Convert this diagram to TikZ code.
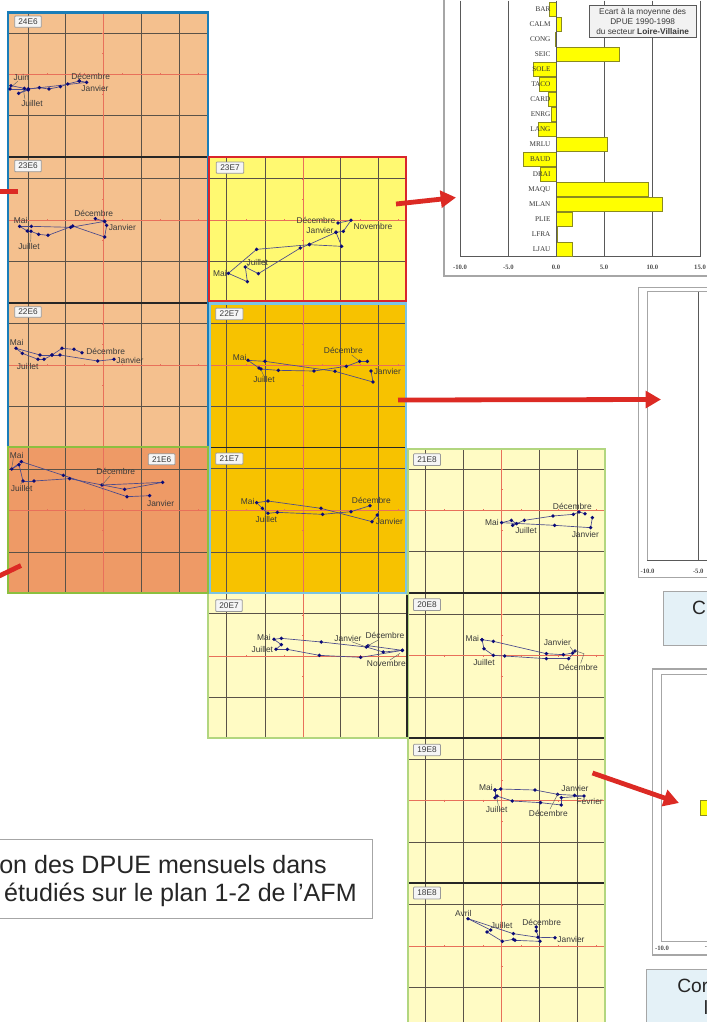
\documentclass[tikz,border=0pt]{standalone}
\usepackage{fontspec}
\setmainfont{Liberation Sans}
\newfontfamily\serifch{Liberation Serif}
\usetikzlibrary{arrows.meta}
\definecolor{fillA}{HTML}{F4C08E}
\definecolor{fillB}{HTML}{EE9A66}
\definecolor{fillC}{HTML}{FFF971}
\definecolor{fillD}{HTML}{F7C200}
\definecolor{fillE}{HTML}{FFFBC4}
\definecolor{blueB}{HTML}{1A7DB8}
\definecolor{greenB}{HTML}{8CBF3F}
\definecolor{lgreenB}{HTML}{B2D67F}
\definecolor{redB}{HTML}{D9262C}
\definecolor{lblueB}{HTML}{7CC4E4}
\definecolor{redL}{HTML}{E8705A}
\definecolor{gridL}{HTML}{5A5248}
\definecolor{arrowR}{HTML}{DC2A24}
\definecolor{trajL}{HTML}{4A4A8C}
\definecolor{trajP}{HTML}{0A0A78}
\definecolor{txtC}{HTML}{3A3A3A}
\definecolor{barY}{HTML}{FFFF00}
\definecolor{barE}{HTML}{8A8A20}
\definecolor{panelB}{HTML}{E4F1F7}
\newcounter{nid}
\tikzset{
  zoomed/.style 2 args={shift={(#1,#2)},x=.25pt,y=-.25pt},
  gridline/.style={gridL,line width=.65pt},
  redline/.style={redL,line width=.65pt},
  bound/.style={black!85,line width=.8pt},
  traj/.style={trajL,line width=.5pt,line cap=round},
  pt/.style={circle,fill=trajP,inner sep=0pt,minimum size=2.8pt},
  lead/.style={gray!80!black,line width=.35pt},
  lab/.style={font=\fontsize{6.3}{7}\selectfont,text=txtC,inner sep=0pt},
  tag/.style={draw=gray!80,fill=gray!8,rounded corners=.6pt,line width=.6pt,font=\fontsize{6.2}{7}\selectfont,text=txtC,inner sep=0pt,align=center},
  bar/.style={draw=barE,fill=barY,line width=.6pt},
  axisl/.style={gray!70!black,line width=.7pt},
  frameL/.style={gray!70,line width=.8pt},
  tick/.style={font=\serifch\fontsize{5}{6}\selectfont\bfseries,text=gray!60!black,inner sep=0pt},
  cat/.style={font=\serifch\fontsize{5.4}{6}\selectfont,text=black!80,inner sep=0pt,anchor=east},
  bigarrow/.style={arrowR,line width=3.6pt,-{Triangle[length=11.5pt,width=12.5pt]}},
  stub/.style={arrowR,line width=3.6pt},
  caption/.style={font=\fontsize{18.8}{20}\selectfont,text=black!85,inner sep=0pt},
  bluetext/.style={font=\fontsize{14.4}{16}\selectfont,text=black!85,inner sep=0pt},
}
\newcommand\lbl[3]{\stepcounter{nid}\node[lab] (n\arabic{nid}) at (#1,#2) {#3};}
\newcommand\trj[1]{\foreach \p [remember=\p as \q, count=\i] in {#1}{\ifnum\i>1 \draw[traj] \q -- \p;\fi}\foreach \p in {#1}{\node[pt] at \p {};}}
\newcommand\ld[1]{\draw[lead] #1;}
\newcommand\tg[5]{\stepcounter{nid}\node[tag,minimum width=#3*.25pt,minimum height=#4*.25pt] (n\arabic{nid}) at (#1,#2) {#5};}
\begin{document}
\begin{tikzpicture}[x=.75pt,y=-.75pt]
\useasboundingbox (0,0) rectangle (707,1022);
\clip (0,0) rectangle (707,1022);
% panel fills
\fill[fillA] (8,12) rectangle (208,447);
\fill[fillB] (8,447) rectangle (208,593);
\fill[fillC] (208,157) rectangle (407,303);
\fill[fillD] (208,303) rectangle (407,593);
\fill[fillE] (208,593) rectangle (407,738);
\fill[fillE] (407,449) rectangle (605,1030);
% grids
\foreach \x in {28,65.5,141,179} \draw[gridline] (\x,12) -- (\x,593);
\foreach \y in {33,115,178,261,323,406,469,552} \draw[gridline] (8,\y) -- (208,\y);
\foreach \x in {226.7,265,340.5,378} \draw[gridline] (\x,157) -- (\x,738);
\foreach \y in {178,261,323,406,468,552,613,697} \draw[gridline] (208,\y) -- (407,\y);
\foreach \x in {425,463,539.5,577} \draw[gridline] (\x,449) -- (\x,1030);
\foreach \y in {469,551,614,697,759,842,904,987} \draw[gridline] (407,\y) -- (605,\y);
% red axes
\draw[redline] (103,12) -- (103,593);
\draw[redline] (303,157) -- (303,738);
\draw[redline] (501.5,449) -- (501.5,1030);
\foreach \y in {74,220,365,510} {\draw[redline] (8,\y) -- (208,\y);
  \foreach \x in {47,84,122,160,198} \draw[redline] (\x,\y-1) -- (\x,\y+1);
  \foreach \d in {-20.5,20.5,-41} \draw[redline] (102,\y+\d) -- (104,\y+\d);}
\foreach \y in {220,365,510,656} {\draw[redline] (208,\y) -- (407,\y);
  \foreach \x in {246,284,322,360,398} \draw[redline] (\x,\y-1) -- (\x,\y+1);
  \foreach \d in {-20.5,20.5,-41} \draw[redline] (302,\y+\d) -- (304,\y+\d);}
\foreach \y in {510,655.6,800.6,946} {\draw[redline] (407,\y) -- (605,\y);
  \foreach \x in {444,483,521,558,596} \draw[redline] (\x,\y-1) -- (\x,\y+1);
  \foreach \d in {-20.5,20.5,-41} \draw[redline] (500.5,\y+\d) -- (502.5,\y+\d);}
% black cell bounds
\draw[bound] (8,157) -- (208,157);
\draw[bound] (8,303) -- (208,303);
\draw[bound] (208,447.5) -- (407,447.5);
\draw[bound] (407,593) -- (605,593);
\draw[bound] (407,738) -- (605,738);
\draw[bound] (407,883) -- (605,883);
% coloured borders
\draw[lgreenB,line width=2pt] (208,593) rectangle (407,738);
\draw[lgreenB,line width=2pt] (408,449) rectangle (605,1040);
\draw[bound] (407,595) -- (407,737);
\draw[blueB,line width=2.1pt] (8,12.5) rectangle (208,447);
\draw[greenB,line width=2.1pt] (8,447) rectangle (208,593);
\draw[lblueB,line width=2.1pt] (210,303.5) rectangle (406,593);
\draw[redB,line width=2.1pt] (209,157) rectangle (406,301);
%
\begin{scope}[zoomed={0}{0}]
\tg{84}{65}{80}{34}{24E6}
\trj{(238,243),(203,252),(181,260),(147,267),(118,263),(85,267),(56,280),(85,270),(73,265),(33,257),(30,267),(85,267),(260,247),(238,243)}
\ld{(53,244) -- (35,260)} \ld{(75,298) -- (70,268)}
\lbl{64}{232}{Juin}\lbl{272}{228}{Décembre}\lbl{285}{264}{Janvier}\lbl{96}{309}{Juillet}
\tg{84}{498}{80}{34}{23E6}
\trj{(286,656),(314,664),(320,676),(314,711),(218,678),(144,706),(116,703),(93,694),(82,693),(59,679),(94,679),(212,682),(314,664)}
\ld{(92,725) -- (93,700)}
\lbl{281}{639}{Décembre}\lbl{62}{660}{Mai}\lbl{367}{681}{Janvier}\lbl{87}{739}{Juillet}
\end{scope}
\begin{scope}[zoomed={0}{300}]
\tg{84}{36}{80}{32}{22E6}
\trj{(246,158),(222,148),(186,145),(156,165),(132,178),(114,178),(67,160),(48,145),(120,165),(156,165),(180,165),(293,183),(342,178)}
\lbl{50}{126}{Mai}\lbl{317}{153}{Décembre}\lbl{390}{182}{Janvier}\lbl{83}{198}{Juillet}
\tg{485}{478}{80}{33}{21E6}
\trj{(449,587),(381,590),(190,526),(64,485),(35,507),(57,494),(69,543),(102,543),(209,536),(374,568),(488,547),(306,555)}
\ld{(40,475) -- (35,505)} \ld{(330,528) -- (306,555)} \ld{(62,552) -- (68,545)}
\lbl{50}{465}{Mai}\lbl{347}{515}{Décembre}\lbl{65}{565}{Juillet}\lbl{482}{609}{Janvier}
\end{scope}
\begin{scope}[zoomed={205}{150}]
\tg{75}{53}{82}{34}{23E7}
\trj{(399,219),(438,211),(415,244),(393,247),(410,289),(313,284),(155,298),(70,370),(127,395),(121,351),(160,371),(286,294),(313,283),(393,247)}
\ld{(133,345) -- (122,351)}
\lbl{333}{212}{Décembre}\lbl{504}{228}{Novembre}\lbl{345}{241}{Janvier}\lbl{157}{337}{Juillet}\lbl{45}{369}{Mai}
\tg{73}{492}{82}{35}{22E7}
\trj{(498,663),(504,696),(390,664),(180,634),(129,631),(162,654),(168,657),(220,661),(327,663),(424,649),(464,634),(487,634)}
\ld{(440,615) -- (462,632)} \ld{(176,677) -- (168,659)}
\lbl{104}{621}{Mai}\lbl{415}{600}{Décembre}\lbl{547}{665}{Janvier}\lbl{177}{689}{Juillet}
\end{scope}
\begin{scope}[zoomed={205}{445}]
\tg{73}{41}{82}{34}{21E7}
\trj{(517,210),(501,230),(348,190),(189,168),(155,173),(172,190),(189,205),(217,202),(353,208),(438,200),(495,182)}
\lbl{128}{170}{Mai}\lbl{499}{166}{Décembre}\lbl{184}{224}{Juillet}\lbl{553}{230}{Janvier}
\tg{72}{482}{80}{35}{20E7}
\trj{(489,602),(592,616),(467,637),(343,631),(247,613),(213,613),(229,599),(207,583),(229,580),(349,591),(484,606),(535,621),(592,616)}
\ld{(440,590) -- (484,606)} \ld{(520,585) -- (489,602)} \ld{(585,625) -- (555,645)}
\lbl{177}{577}{Mai}\lbl{172}{613}{Juillet}\lbl{429}{579}{Janvier}\lbl{540}{570}{Décembre}\lbl{544}{656}{Novembre}
\end{scope}
\begin{scope}[zoomed={405}{445}]
\tg{66}{44}{81}{35}{21E8}
\trj{(540,206),(522,201),(505,208),(444,213),(358,226),(323,241),(335,236),(319,226),(290,233),(449,241),(557,248),(562,218)}
\lbl{502}{184}{Décembre}\lbl{261}{231}{Mai}\lbl{363}{255}{Juillet}\lbl{541}{268}{Janvier}
\tg{66}{479}{81}{35}{20E8}
\trj{(231,584),(265,589),(424,626),(475,629),(503,624),(510,618),(491,641),(424,641),(299,633),(265,631),(237,611),(231,584)}
\ld{(495,605) -- (507,622)} \ld{(527,655) -- (537,626) -- (510,617)}
\lbl{202}{581}{Mai}\lbl{457}{591}{Janvier}\lbl{237}{651}{Juillet}\lbl{520}{666}{Décembre}
\end{scope}
\begin{scope}[zoomed={405}{735}]
\tg{66}{45}{81}{34}{19E8}
\trj{(270,165),(287,162),(390,165),(458,178),(509,181),(537,183),(469,188),(469,210),(407,203),(322,198),(276,183),(270,188),(270,165)}
\ld{(435,222) -- (458,178)} \ld{(280,212) -- (275,185)}
\lbl{243}{158}{Mai}\lbl{510}{161}{Janvier}\lbl{554}{199}{Février}\lbl{275}{224}{Juillet}\lbl{430}{235}{Décembre}
\tg{66}{474}{81}{36}{18E8}
\trj{(394,576),(394,588),(405,619),(330,616),(325,613),(292,619),(246,591),(257,585),(189,551),(325,596),(399,607),(450,608)}
\lbl{175}{535}{Avril}\lbl{290}{571}{Juillet}\lbl{410}{562}{Décembre}\lbl{498}{612}{Janvier}
\end{scope}
% chart 1
\draw[frameL] (444,-2) -- (444,276) -- (710,276);
\begin{scope}[zoomed={440}{0}]
\foreach \x in {60,205,492,637,780} \draw[axisl] (\x,2) -- (\x,770);
\draw[axisl] (60,770) -- (780,770);
\foreach \a/\b/\c/\d in {328/348/8/48,348/365/53/93,347/349/98/138,348/537/143/184,280/348/188/228,298/348/233/273,326/348/278/318,334/348/323/363,295/348/368/408,348/503/413/453,250/348/458/498,301/348/503/543,348/625/548/588,348/667/593/633,348/398/638/678,348/351/683/723,348/396/728/768}
  \draw[bar] (\a,\c) rectangle (\b,\d);
\draw[axisl] (348,2) -- (348,770);
\foreach \t/\y [count=\i] in {BAR/28,CALM/72,CONG/118,SEIC/162,SOLE/207,TACO/252,CARD/297,ENRG/342,LANG/387,MRLU/432,BAUD/478,DRAI/523,MAQU/568,MLAN/612,PLIE/657,LFRA/702,LJAU/747}
  \node[cat] (c\i) at (332,\y) {\t};
\foreach \x/\t [count=\i] in {60/-10.0,205/-5.0,348/0.0,492/5.0,637/10.0,780/15.0}
  \node[tick] (t\i) at (\x,802) {\t};
\node[draw=gray!70!black,fill=gray!10,line width=.6pt,minimum width=80pt,minimum height=24.2pt,inner sep=0pt,align=center,font=\fontsize{6.2}{7.4}\selectfont,text=txtC] (leg) at (608,64.5) {Ecart à la moyenne des\\DPUE 1990-1998\\du secteur \textbf{Loire-Villaine}};
\end{scope}
% chart 2
\draw[frameL] (712,287.5) -- (638.5,287.5) -- (638.5,577.5) -- (712,577.5);
\draw[frameL,line width=.6pt] (712,291.5) -- (647.3,291.5) -- (647.3,560.3);
\draw[axisl] (647.3,560.3) -- (712,560.3);
\draw[axisl] (698.3,291.5) -- (698.3,560.3);
\node[tick] (t7) at (647.5,571) {-10.0};
\node[tick] (t8) at (698.3,571) {-5.0};
\draw[frameL,fill=panelB,line width=.6pt] (663.3,591.7) rectangle (712,645);
% chart 3
\draw[frameL] (712,669) -- (652.3,669) -- (652.3,955) -- (712,955);
\draw[frameL,line width=.6pt] (712,674) -- (661.7,674) -- (661.7,941) -- (712,941);
\node[tick] (t9) at (662,948) {-10.0};
\node[tick,anchor=west] (t10) at (704.5,948) {-};
\draw[bar] (700.7,800) rectangle (712,815);
\draw[frameL,fill=panelB,line width=.6pt] (646.7,969) rectangle (712,1030);
% blue panel text
\node[bluetext] (cap2) at (699,608) {C};
\node[bluetext,anchor=west] (cap3) at (677,986) {Cor};
\node[bluetext,anchor=west] (cap4) at (703.5,1008) {l};
% caption box
\draw[gray!70,fill=white,line width=.6pt] (-3,839.5) rectangle (372,918.5);
\node[caption,anchor=east] (cap1a) at (327,865) {on des DPUE mensuels dans};
\node[caption,anchor=east] (cap1b) at (357,895) {étudiés sur le plan 1-2 de l’AFM};
% arrows
\coordinate (a1s) at (-2,191.5); \coordinate (a1e) at (17.5,191.5);
\coordinate (a2s) at (-3,577); \coordinate (a2e) at (21,565.5);
\coordinate (a3s) at (396,204); \coordinate (a3e) at (456,197.5);
\coordinate (a4s) at (398,400); \coordinate (a4e) at (661,399.5);
\coordinate (a5s) at (592.5,773); \coordinate (a5e) at (679,803);
\draw[stub] (a1s) -- (a1e);
\draw[stub] (a2s) -- (a2e);
\draw[bigarrow] (a3s) -- (a3e);
\draw[bigarrow] (a4s) -- (a4e);
\draw[bigarrow] (a5s) -- (a5e);
\end{tikzpicture}
\end{document}
